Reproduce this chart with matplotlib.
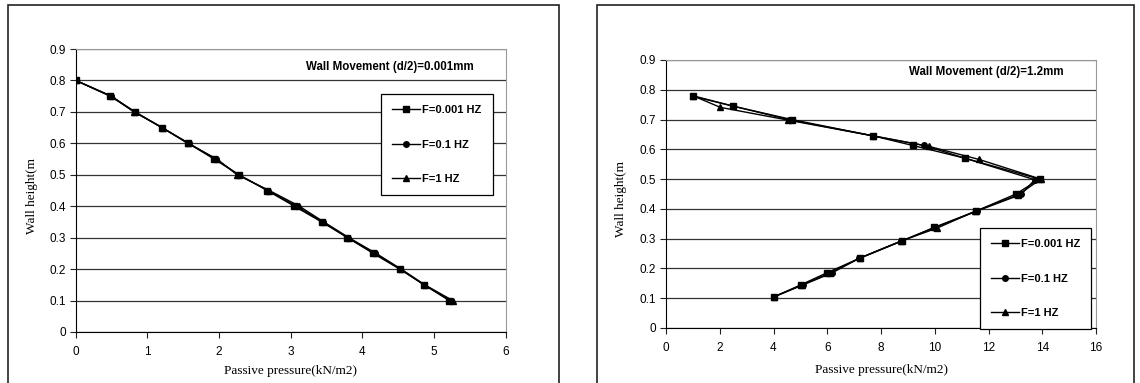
import matplotlib
matplotlib.use('Agg')
import matplotlib.pyplot as plt
from matplotlib.patches import Rectangle
from matplotlib.ticker import FuncFormatter

# Datos - grafico izquierdo (d/2 = 0.001 mm)
altura_izq = [0.80, 0.75, 0.70, 0.65, 0.60, 0.55, 0.50, 0.45, 0.40, 0.35, 0.30, 0.25, 0.20, 0.15, 0.10]
presion_izq_f0001 = [0.0, 0.48, 0.82, 1.20, 1.57, 1.93, 2.28, 2.67, 3.05, 3.43, 3.79, 4.15, 4.52, 4.86, 5.21]
presion_izq_f01 = [0.0, 0.49, 0.83, 1.20, 1.58, 1.95, 2.27, 2.68, 3.08, 3.45, 3.80, 4.17, 4.53, 4.86, 5.23]
presion_izq_f1 = [0.0, 0.50, 0.81, 1.21, 1.56, 1.97, 2.25, 2.70, 3.12, 3.46, 3.81, 4.19, 4.54, 4.87, 5.26]

# Datos - grafico derecho (d/2 = 1.2 mm)
altura_der_f0001 = [0.780, 0.745, 0.700, 0.645, 0.613, 0.570, 0.500, 0.450, 0.393, 0.338, 0.292, 0.234, 0.186, 0.145, 0.104]
altura_der_f01 = [0.778, 0.745, 0.698, 0.645, 0.613, 0.570, 0.498, 0.449, 0.393, 0.337, 0.292, 0.234, 0.185, 0.144, 0.104]
altura_der_f1 = [0.780, 0.741, 0.698, 0.645, 0.610, 0.566, 0.500, 0.447, 0.392, 0.336, 0.292, 0.234, 0.185, 0.144, 0.104]
presion_der_f0001 = [1.0, 2.5, 4.68, 7.72, 9.18, 11.13, 13.90, 13.02, 11.55, 9.98, 8.78, 7.20, 6.00, 5.02, 4.0]
presion_der_f01 = [1.0, 2.5, 4.65, 7.72, 9.60, 11.13, 13.72, 13.22, 11.58, 10.00, 8.75, 7.18, 6.18, 5.08, 4.0]
presion_der_f1 = [1.0, 2.02, 4.55, 7.72, 9.78, 11.65, 13.95, 13.10, 11.50, 10.10, 8.75, 7.20, 6.10, 5.05, 4.0]

etiquetas = ['F=0.001 HZ', 'F=0.1 HZ', 'F=1 HZ']
marcadores = ['s', 'o', '^']
titulo_izq = 'Wall Movement (d/2)=0.001mm'
titulo_der = 'Wall Movement (d/2)=1.2mm'

fuente_ejes = 'Liberation Sans'
fuente_serif = 'Liberation Serif'

fig = plt.figure(figsize=(11.4, 3.83), dpi=100)

# Marcos exteriores de cada grafico
fig.patches.append(Rectangle((7.5 / 1140, -0.1), (559 - 7.5) / 1140, 1.1 - 5 / 383,
                             transform=fig.transFigure, fill=False, edgecolor='#222222', lw=1.2))
fig.patches.append(Rectangle((597 / 1140, -0.1), (1134 - 597) / 1140, 1.1 - 5 / 383,
                             transform=fig.transFigure, fill=False, edgecolor='#222222', lw=1.2))

ax1 = fig.add_axes([75.8 / 1140, 1 - 332 / 383, 430 / 1140, 283 / 383])
ax2 = fig.add_axes([666 / 1140, 1 - 328 / 383, 430 / 1140, 268 / 383])


def formato_y(v, pos):
    if abs(v) < 1e-9:
        return '0'
    return f'{v:.1f}'


def configurar(ax, xmax, xpaso, titulo, tx, ty, leg_pos, ylab_x, xlab_y):
    ax.set_xlim(0, xmax)
    ax.set_ylim(0, 0.9)
    ax.set_xticks([i * xpaso for i in range(int(xmax / xpaso) + 1)])
    ax.set_yticks([i / 10 for i in range(10)])
    ax.yaxis.set_major_formatter(FuncFormatter(formato_y))
    ax.yaxis.grid(True, color='#333333', lw=0.9)
    ax.set_axisbelow(True)
    ax.tick_params(direction='out', length=4, width=0.8, color='#222222', labelsize=8.5)
    ax.tick_params(axis='x', pad=6)
    ax.tick_params(axis='y', pad=3)
    for lbl in ax.get_xticklabels() + ax.get_yticklabels():
        lbl.set_fontfamily(fuente_ejes)
    ax.spines['left'].set_color('black')
    ax.spines['bottom'].set_color('black')
    ax.spines['top'].set_color('#999999')
    ax.spines['right'].set_color('#999999')
    ax.set_xlabel('Passive pressure(kN/m2)', fontfamily=fuente_serif, fontsize=9.5)
    ax.set_ylabel('Wall height(m', fontfamily=fuente_serif, fontsize=9.5)
    ax.yaxis.set_label_coords(ylab_x, 0.48)
    ax.xaxis.set_label_coords(0.5, xlab_y)
    ax.text(tx, ty, titulo, transform=ax.transAxes, ha='center', va='center',
            fontfamily=fuente_ejes, fontweight='bold', fontsize=8.3)
    leg = ax.legend(loc='upper left', bbox_to_anchor=leg_pos, frameon=True, fancybox=False,
                    edgecolor='black', framealpha=1, labelspacing=2.2, handlelength=2.5,
                    handletextpad=0.2, borderpad=1.0, borderaxespad=0,
                    prop={'family': fuente_ejes, 'weight': 'bold', 'size': 8})
    leg.get_frame().set_linewidth(0.9)


for x, m, lab in zip([presion_izq_f0001, presion_izq_f01, presion_izq_f1], marcadores, etiquetas):
    ax1.plot(x, altura_izq, color='black', lw=1.0, marker=m, markersize=4, label=lab)

for x, y, m, lab in zip([presion_der_f0001, presion_der_f01, presion_der_f1],
                        [altura_der_f0001, altura_der_f01, altura_der_f1], marcadores, etiquetas):
    ax2.plot(x, y, color='black', lw=1.0, marker=m, markersize=4, label=lab)

configurar(ax1, 6, 1, titulo_izq, 0.73, 0.936, (0.71, 0.841), -0.088, -0.117)
configurar(ax2, 16, 2, titulo_der, 0.746, 0.955, (0.73, 0.373), -0.091, -0.134)

fig.savefig('out.png', dpi=100)
